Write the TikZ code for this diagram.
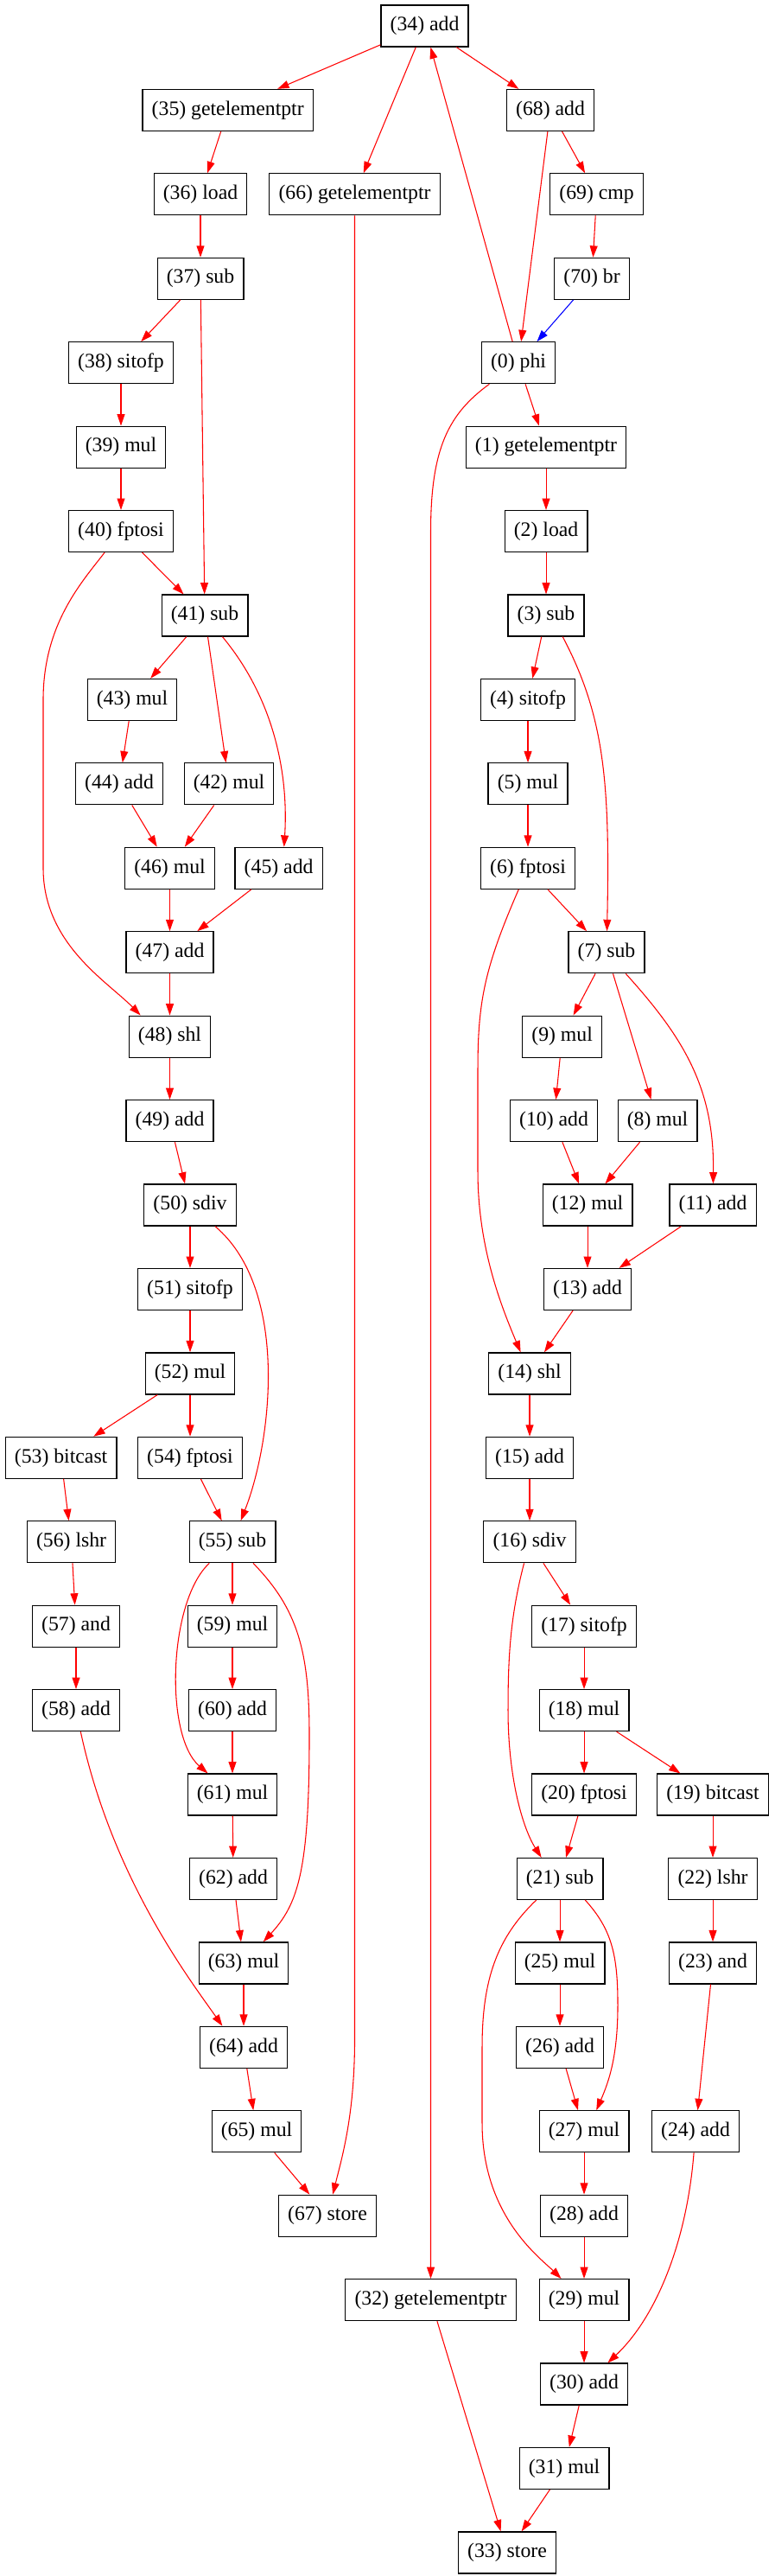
\documentclass[tikz,border=0pt]{standalone}
\usepackage{fontspec}
\setmainfont{Liberation Serif}
\usetikzlibrary{arrows.meta}
\begin{document}
\begin{tikzpicture}[x=0.75pt, y=-73.07pt,
  op/.style={draw, line width=0.9pt, rectangle, minimum height=36pt, inner xsep=8pt, inner ysep=0pt, font=\fontsize{17.8}{20}\selectfont},
  flow/.style={red, line width=0.8pt, -{Triangle[length=10pt, width=6.7pt]}},
  back/.style={blue, line width=0.8pt, -{Triangle[length=10pt, width=6.7pt]}}]
\useasboundingbox (0, -0.3079) rectangle (896, 30.278);

\node (n34) at (491.5, 0) [op] {(34) add};
\node (n35) at (263.7, 1) [op] {(35) getelementptr};
\node (n68) at (637, 1) [op] {(68) add};
\node (n36) at (232, 2) [op] {(36) load};
\node (n66) at (410.5, 2) [op] {(66) getelementptr};
\node (n69) at (690.6, 2) [op] {(69) cmp};
\node (n37) at (232, 3) [op] {(37) sub};
\node (n70) at (685, 3) [op] {(70) br};
\node (n38) at (140, 4) [op] {(38) sitofp};
\node (n0) at (600, 4) [op] {(0) phi};
\node (n39) at (140, 5) [op] {(39) mul};
\node (n1) at (632, 5) [op] {(1) getelementptr};
\node (n40) at (140, 6) [op] {(40) fptosi};
\node (n2) at (632, 6) [op] {(2) load};
\node (n41) at (237, 7) [op] {(41) sub};
\node (n3) at (632, 7) [op] {(3) sub};
\node (n43) at (153, 8) [op] {(43) mul};
\node (n4) at (611, 8) [op] {(4) sitofp};
\node (n44) at (138, 9) [op] {(44) add};
\node (n42) at (265, 9) [op] {(42) mul};
\node (n5) at (611, 9) [op] {(5) mul};
\node (n46) at (196.5, 10) [op] {(46) mul};
\node (n45) at (322.6, 10) [op] {(45) add};
\node (n6) at (611, 10) [op] {(6) fptosi};
\node (n47) at (196.5, 11) [op] {(47) add};
\node (n7) at (702, 11) [op] {(7) sub};
\node (n48) at (196.5, 12) [op] {(48) shl};
\node (n9) at (650.6, 12) [op] {(9) mul};
\node (n49) at (196.5, 13) [op] {(49) add};
\node (n10) at (641, 13) [op] {(10) add};
\node (n8) at (761, 13) [op] {(8) mul};
\node (n50) at (220, 14) [op] {(50) sdiv};
\node (n12) at (680, 14) [op] {(12) mul};
\node (n11) at (825, 14) [op] {(11) add};
\node (n51) at (220, 15) [op] {(51) sitofp};
\node (n13) at (680, 15) [op] {(13) add};
\node (n52) at (220, 16) [op] {(52) mul};
\node (n14) at (613, 16) [op] {(14) shl};
\node (n53) at (70.6, 17) [op] {(53) bitcast};
\node (n54) at (220, 17) [op] {(54) fptosi};
\node (n15) at (613, 17) [op] {(15) add};
\node (n56) at (82.6, 18) [op] {(56) lshr};
\node (n55) at (269, 18) [op] {(55) sub};
\node (n16) at (613, 18) [op] {(16) sdiv};
\node (n57) at (88, 19) [op] {(57) and};
\node (n59) at (269, 19) [op] {(59) mul};
\node (n17) at (676, 19) [op] {(17) sitofp};
\node (n58) at (88, 20) [op] {(58) add};
\node (n60) at (269, 20) [op] {(60) add};
\node (n18) at (676, 20) [op] {(18) mul};
\node (n61) at (269, 21) [op] {(61) mul};
\node (n20) at (676, 21) [op] {(20) fptosi};
\node (n19) at (825, 21) [op] {(19) bitcast};
\node (n62) at (270, 22) [op] {(62) add};
\node (n21) at (648, 22) [op] {(21) sub};
\node (n22) at (825, 22) [op] {(22) lshr};
\node (n63) at (282, 23) [op] {(63) mul};
\node (n25) at (648, 23) [op] {(25) mul};
\node (n23) at (825, 23) [op] {(23) and};
\node (n64) at (282, 24) [op] {(64) add};
\node (n26) at (648, 24) [op] {(26) add};
\node (n65) at (297, 25) [op] {(65) mul};
\node (n27) at (676, 25) [op] {(27) mul};
\node (n24) at (805, 25) [op] {(24) add};
\node (n67) at (379, 26) [op] {(67) store};
\node (n28) at (676, 26) [op] {(28) add};
\node (n32) at (498.5, 27) [op] {(32) getelementptr};
\node (n29) at (676, 27) [op] {(29) mul};
\node (n30) at (676, 28) [op] {(30) add};
\node (n31) at (653, 29) [op] {(31) mul};
\node (n33) at (587, 30) [op] {(33) store};

\draw [flow] (n34) -- (n35);
\draw [flow] (n34) -- (n66);
\draw [flow] (n34) -- (n68);
\draw [flow] (n0) -- (n34);
\draw [flow] (n68) -- (n0);
\draw [flow] (n68) -- (n69);
\draw [flow] (n69) -- (n70);
\draw [back] (n70) -- (n0);
\draw [flow] (n35) -- (n36);
\draw [flow] (n36) -- (n37);
\draw [flow] (n0) -- (n1);
\draw [flow] (n1) -- (n2);
\draw [flow] (n2) -- (n3);
\draw [flow] (n37) -- (n38);
\draw [flow] (n37) -- (n41);
\draw [flow] (n38) -- (n39);
\draw [flow] (n39) -- (n40);
\draw [flow] (n40) -- (n41);
\draw [flow] (n41) -- (n43);
\draw [flow] (n41) -- (n42);
\draw [flow] (n43) -- (n44);
\draw [flow] (n44) -- (n46);
\draw [flow] (n42) -- (n46);
\draw [flow] (n46) -- (n47);
\draw [flow] (n45) -- (n47);
\draw [flow] (n47) -- (n48);
\draw [flow] (n48) -- (n49);
\draw [flow] (n49) -- (n50);
\draw [flow] (n50) -- (n51);
\draw [flow] (n51) -- (n52);
\draw [flow] (n52) -- (n53);
\draw [flow] (n52) -- (n54);
\draw [flow] (n53) -- (n56);
\draw [flow] (n54) -- (n55);
\draw [flow] (n55) -- (n59);
\draw [flow] (n56) -- (n57);
\draw [flow] (n57) -- (n58);
\draw [flow] (n59) -- (n60);
\draw [flow] (n60) -- (n61);
\draw [flow] (n61) -- (n62);
\draw [flow] (n62) -- (n63);
\draw [flow] (n63) -- (n64);
\draw [flow] (n64) -- (n65);
\draw [flow] (n65) -- (n67);
\draw [flow] (n3) -- (n4);
\draw [flow] (n4) -- (n5);
\draw [flow] (n5) -- (n6);
\draw [flow] (n6) -- (n7);
\draw [flow] (n7) -- (n9);
\draw [flow] (n7) -- (n8);
\draw [flow] (n9) -- (n10);
\draw [flow] (n10) -- (n12);
\draw [flow] (n8) -- (n12);
\draw [flow] (n12) -- (n13);
\draw [flow] (n11) -- (n13);
\draw [flow] (n13) -- (n14);
\draw [flow] (n14) -- (n15);
\draw [flow] (n15) -- (n16);
\draw [flow] (n16) -- (n17);
\draw [flow] (n17) -- (n18);
\draw [flow] (n18) -- (n20);
\draw [flow] (n18) -- (n19);
\draw [flow] (n20) -- (n21);
\draw [flow] (n19) -- (n22);
\draw [flow] (n22) -- (n23);
\draw [flow] (n21) -- (n25);
\draw [flow] (n25) -- (n26);
\draw [flow] (n26) -- (n27);
\draw [flow] (n23) -- (n24);
\draw [flow] (n27) -- (n28);
\draw [flow] (n28) -- (n29);
\draw [flow] (n29) -- (n30);
\draw [flow] (n30) -- (n31);
\draw [flow] (n31) -- (n33);
\draw [flow] (n32) -- (n33);

\draw [flow] (n40) .. controls (95, 6.6) and (50, 7.1) .. (50, 8) -- (50, 10) .. controls (50, 10.9) and (125, 11.35) .. (n48.144);
\draw [flow] (n41) .. controls (318, 8) and (334, 8.9) .. (n45.76);
\draw [flow] (n50) .. controls (335, 15) and (315, 16.8) .. (n55);
\draw [flow] (n55) .. controls (195, 18.7) and (190, 20.3) .. (n61);
\draw [flow] (n55) .. controls (345, 18.8) and (358, 19.3) .. (358, 20.3) .. controls (358, 21.9) and (345, 22.3) .. (n63);
\draw [flow] (n58) .. controls (130, 22) and (220, 23.2) .. (n64.135);
\draw [flow] (n66) -- (410.5, 23.9) .. controls (410.5, 24.8) and (396, 25.3) .. (n67);
\draw [flow] (n0) .. controls (520, 4.6) and (498.5, 5) .. (498.5, 6) -- (n32);
\draw [flow] (n3.-52) .. controls (700, 8.2) and (706, 9) .. (n7);
\draw [flow] (n6) .. controls (560, 11.2) and (553, 11.6) .. (553, 12.4) -- (553, 13.6) .. controls (553, 14.5) and (580, 15.2) .. (n14);
\draw [flow] (n7) .. controls (790, 12) and (827, 12.6) .. (n11);
\draw [flow] (n16) .. controls (590, 18.9) and (588, 19.4) .. (588, 20) .. controls (588, 20.8) and (605, 21.4) .. (n21.131);
\draw [flow] (n21.-40) .. controls (708, 22.6) and (715, 22.9) .. (715, 23.5) .. controls (715, 24.1) and (705, 24.4) .. (n27.60);
\draw [flow] (n21.-138) .. controls (575, 22.7) and (558, 23.2) .. (558, 24) -- (558, 24.9) .. controls (558, 26) and (625, 26.5) .. (n29.137);
\draw [flow] (n24) .. controls (795, 26.3) and (760, 27.2) .. (n30.42);

\end{tikzpicture}
\end{document}
